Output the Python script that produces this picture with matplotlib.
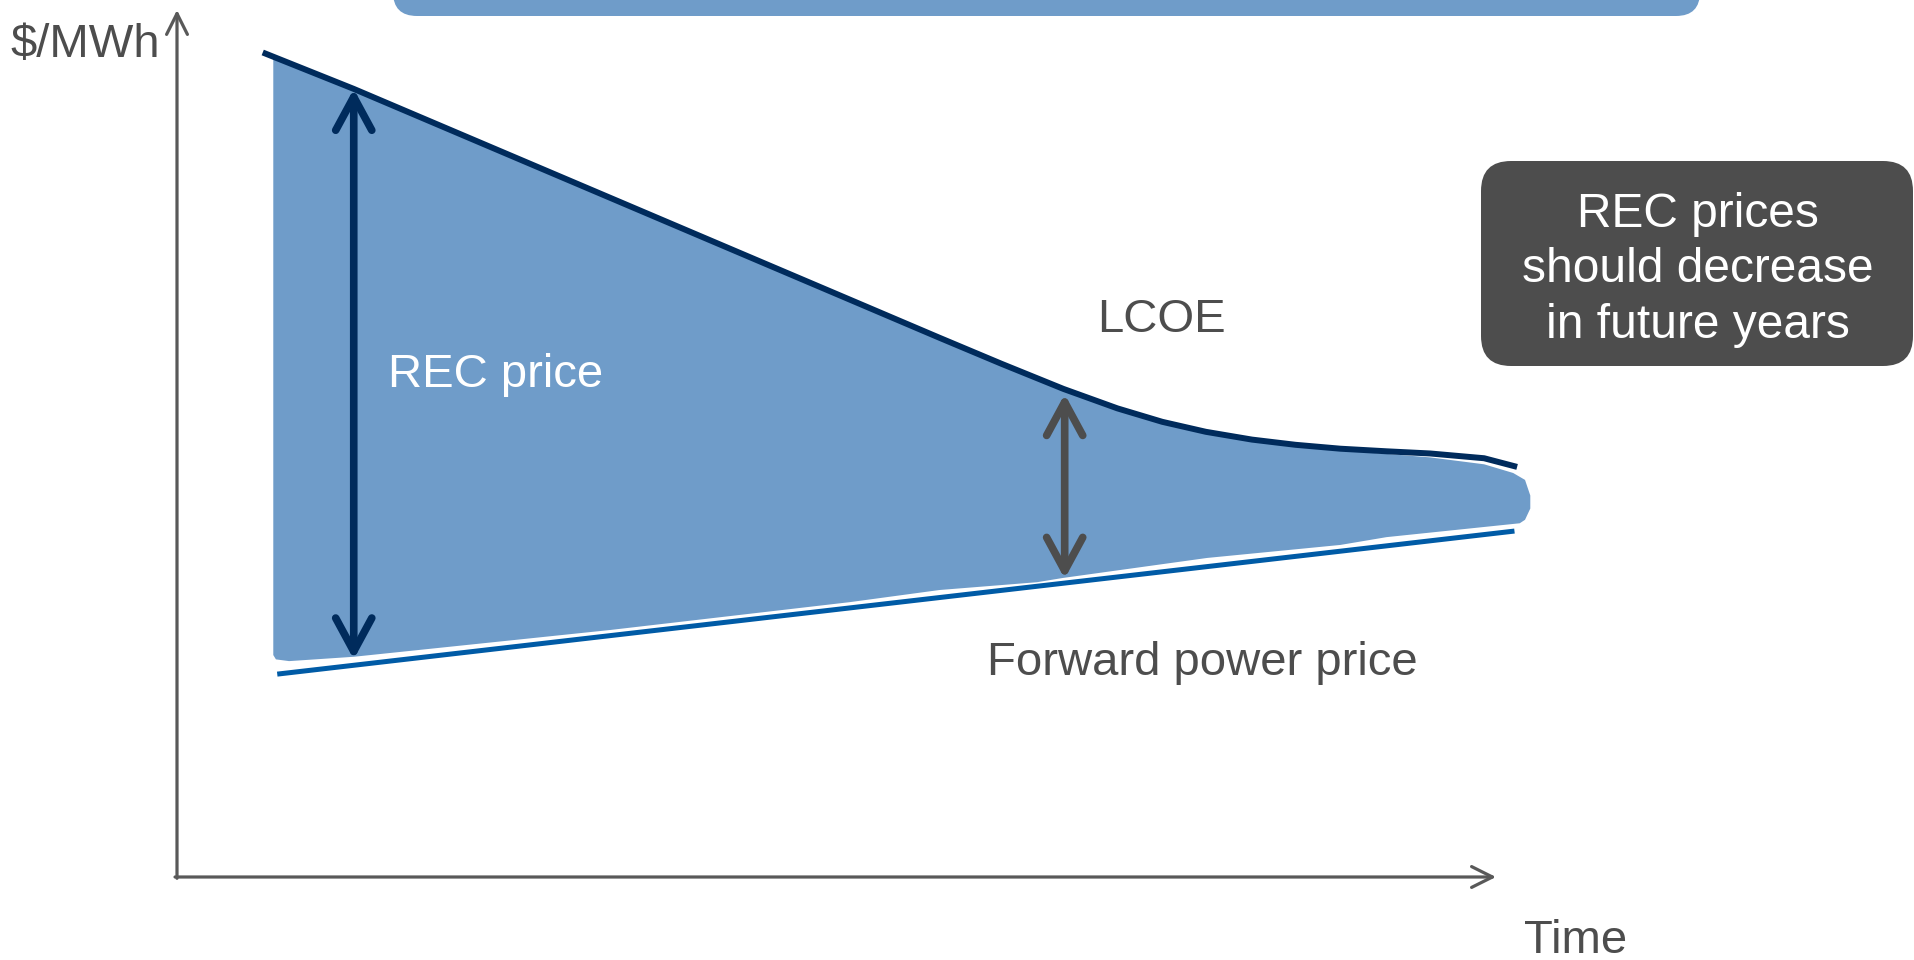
import matplotlib
matplotlib.use("Agg")
import matplotlib.pyplot as plt
from matplotlib.patches import FancyBboxPatch
from matplotlib.transforms import IdentityTransform

plt.rcParams['font.family'] = ['Liberation Sans', 'DejaVu Sans']

# LCOE curve (time units, $/MWh units of the sketch)
lcoe_t = [6.5, 13.4, 32.9, 51.0, 57.8, 62.5, 67.2, 71.3, 74.7, 78.0, 81.5, 84.8, 88.2, 91.7,
          95.0, 99.1, 101.6]
lcoe_v = [95.1, 90.9, 78.3, 66.6, 62.2, 59.2, 56.3, 54.05, 52.5, 51.35, 50.45, 49.85, 49.4,
          49.1, 48.85, 48.3, 47.3]

# forward power price
fwd_t = [7.6, 101.4]
fwd_v = [23.4, 39.9]

# shaded REC price area (outline, clockwise)
area_top_t = [7.3, 13.4, 32.9, 51.0, 57.8, 62.5, 67.2, 71.3, 74.7, 78.0, 81.5, 84.8, 88.2,
              91.7, 95.0, 99.1, 101.3, 102.2, 102.6, 102.6]
area_top_v = [94.5, 90.7, 78.1, 66.4, 62.0, 59.0, 56.1, 53.85, 52.3, 51.15, 50.25, 49.65, 49.2,
              48.8, 48.4, 47.6, 46.6, 45.8, 44.0, 42.5]
area_bot_t = [102.2, 101.8, 91.7, 88.2, 78.1, 67.2, 65.2, 57.8, 51.0, 32.9, 13.4, 8.5, 7.5, 7.3]
area_bot_v = [41.2, 40.8, 39.2, 38.3, 36.8, 34.5, 34.0, 33.1, 31.7, 28.5, 25.4, 24.9, 25.1, 25.6]

# double arrows: (time, low, high)
rec_arrow = (13.4, 25.1, 90.9)
gap_arrow = (67.3, 34.4, 55.7)

navy = '#002B5C'
mid_blue = '#005BA6'
fill_blue = '#6F9CC9'
grey = '#4D4D4D'
axis_grey = '#595959'

W, H = 1915, 960
fig = plt.figure(figsize=(W / 100, H / 100), dpi=100)
ox, oy = 177, 877          # pixel position of the axis origin
px_x, px_y = 13.19, 8.67   # pixels per unit
ax = fig.add_axes([ox / W, (H - oy) / H, (W - ox) / W, oy / H])
ax.set_xlim(0, (W - ox) / px_x)
ax.set_ylim(0, oy / px_y)
ax.axis('off')

# shaded area
ax.fill(area_top_t + area_bot_t, area_top_v + area_bot_v, color=fill_blue, lw=0, zorder=1)

# lines
ax.plot(lcoe_t, lcoe_v, color=navy, lw=4.3, solid_capstyle='butt', solid_joinstyle='round',
        zorder=3, clip_on=False)
ax.plot(fwd_t, fwd_v, color=mid_blue, lw=3.6, solid_capstyle='butt', zorder=3, clip_on=False)

# axes arrows
for tip, start in [((0, 100), (0, -0.15)), ((100, 0), (-0.15, 0))]:
    ax.annotate('', xy=tip, xytext=start,
                arrowprops=dict(arrowstyle='->,head_length=1.5,head_width=0.75', color=axis_grey,
                                lw=2.3, mutation_scale=10, shrinkA=0, shrinkB=0, capstyle='round'))

# double headed arrows
for (t, lo, hi), c in [(rec_arrow, navy), (gap_arrow, grey)]:
    ax.annotate('', xy=(t, hi), xytext=(t, lo),
                arrowprops=dict(arrowstyle='<->,head_length=2.4,head_width=1.3', color=c,
                                lw=5.5, mutation_scale=10, shrinkA=0, shrinkB=0,
                                capstyle='round', joinstyle='round'), zorder=4)

fs = 34
ax.text((388 - ox) / px_x, (oy - 387) / px_y, 'REC price', color='white', fontsize=fs, va='baseline')
ax.text((1097 - ox) / px_x, (oy - 332) / px_y, 'LCOE', color=grey, fontsize=fs, va='baseline')
ax.text((987 - ox) / px_x, (oy - 675) / px_y, 'Forward power price', color=grey, fontsize=fs, va='baseline')
fig.text(10 / W, (H - 57) / H, '$/MWh', color=grey, fontsize=fs, va='baseline')
fig.text(1524 / W, (H - 953) / H, 'Time', color=grey, fontsize=fs, va='baseline')

# top banner (cut off by the figure edge)
banner = FancyBboxPatch((393, H - 16), 1700 - 393, 80,
                        boxstyle='round,pad=0,rounding_size=24',
                        transform=IdentityTransform(), color=fill_blue, lw=0)
fig.add_artist(banner)

# call-out box
box = FancyBboxPatch((1481, H - 366), 1913 - 1481, 366 - 161,
                     boxstyle='round,pad=0,rounding_size=30',
                     transform=IdentityTransform(), color=grey, lw=0)
fig.add_artist(box)
fig.text(1698 / W, (H - 270) / H, 'REC prices\nshould decrease\nin future years',
         color='white', fontsize=34.5, ha='center', va='center', linespacing=1.3)

fig.savefig('out.png', dpi=100)
